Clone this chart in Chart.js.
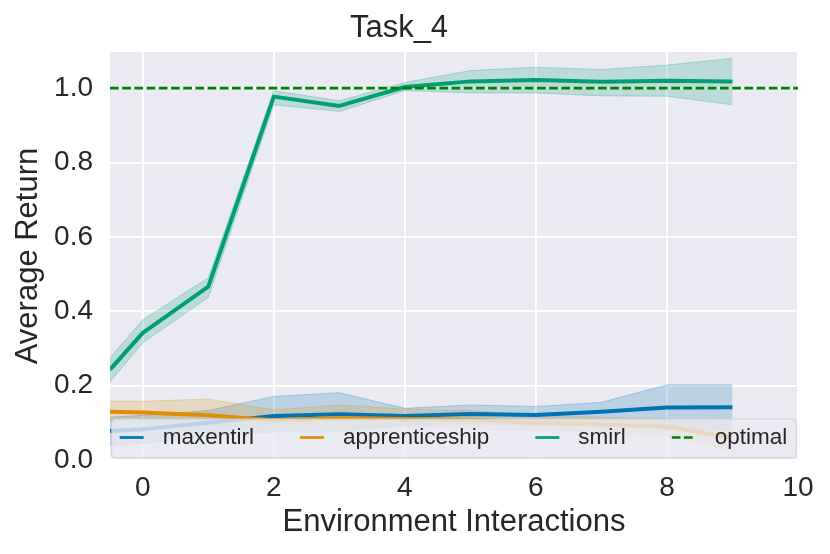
<!DOCTYPE html>
<html>
<head>
<meta charset="utf-8">
<script src="https://cdn.jsdelivr.net/npm/chart.js@4.4.1/dist/chart.umd.min.js"></script>
<style>
  html, body { margin: 0; padding: 0; background: #ffffff; }
  #chart { display: block; }
</style>
</head>
<body>
<canvas id="chart" width="830" height="554"></canvas>
<script>
// environment interaction steps (first point sits on the left axis edge)
const steps = [-0.5, 0, 1, 2, 3, 4, 5, 6, 7, 8, 9];

const maxentirlMean  = [0.078, 0.083, 0.100, 0.118, 0.123, 0.118, 0.124, 0.121, 0.130, 0.141, 0.142];
const maxentirlUpper = [0.115, 0.120, 0.133, 0.171, 0.181, 0.139, 0.148, 0.144, 0.155, 0.202, 0.202];
const maxentirlLower = [0.040, 0.045, 0.065, 0.075, 0.075, 0.095, 0.097, 0.093, 0.100, 0.082, 0.082];

const apprenticeMean  = [0.130, 0.128, 0.120, 0.107, 0.113, 0.110, 0.108, 0.100, 0.095, 0.090, 0.060];
const apprenticeUpper = [0.158, 0.158, 0.164, 0.135, 0.148, 0.137, 0.133, 0.120, 0.115, 0.110, 0.095];
const apprenticeLower = [0.105, 0.102, 0.095, 0.080, 0.085, 0.090, 0.085, 0.080, 0.075, 0.065, 0.025];

const smirlMean  = [0.243, 0.342, 0.466, 0.977, 0.952, 1.003, 1.018, 1.022, 1.017, 1.020, 1.018];
const smirlUpper = [0.275, 0.377, 0.490, 0.993, 0.966, 1.015, 1.047, 1.056, 1.050, 1.062, 1.080];
const smirlLower = [0.210, 0.315, 0.437, 0.955, 0.937, 0.993, 0.987, 0.987, 0.979, 0.978, 0.955];

const optimalValue = 1.0;

const xTicks = [0, 2, 4, 6, 8, 10];
const yTicks = [0.0, 0.2, 0.4, 0.6, 0.8, 1.0];
const xMin = -0.5, xMax = 10;
const yMin = 0, yMax = 1.097;

const FONT = '"Liberation Sans", Arial, "DejaVu Sans", sans-serif';
const INK = '#262626';

function pts(ys) {
    return ys.map((y, i) => ({ x: steps[i], y: y }));
}

function rgba(rgb, a) {
    return 'rgba(' + rgb.join(',') + ',' + a + ')';
}

const BLUE = [1, 115, 178];
const ORANGE = [222, 143, 5];
const GREEN = [2, 158, 115];

function band(upper, lower, rgb, order) {
    return [{
        data: pts(upper),
        borderColor: rgba(rgb, 0.25),
        borderWidth: 1,
        pointRadius: 0,
        fill: false,
        order: order + 1
    }, {
        data: pts(lower),
        borderColor: rgba(rgb, 0.25),
        borderWidth: 1,
        pointRadius: 0,
        fill: '-1',
        backgroundColor: rgba(rgb, 0.2),
        order: order
    }];
}

function line(label, ys, rgb, order) {
    return {
        label: label,
        data: pts(ys),
        borderColor: rgba(rgb, 1),
        borderWidth: 4,
        borderJoinStyle: 'round',
        pointRadius: 0,
        fill: false,
        order: order
    };
}

const datasets = [
    ...band(maxentirlUpper, maxentirlLower, BLUE, 20),
    ...band(apprenticeUpper, apprenticeLower, ORANGE, 18),
    ...band(smirlUpper, smirlLower, GREEN, 16),
    line('maxentirl', maxentirlMean, BLUE, 6),
    line('apprenticeship', apprenticeMean, ORANGE, 5),
    line('smirl', smirlMean, GREEN, 4),
    {
        label: 'optimal',
        data: [{ x: xMin, y: optimalValue }, { x: xMax, y: optimalValue }],
        borderColor: '#008000',
        borderWidth: 2.7,
        borderDash: [8.7, 3.5],
        pointRadius: 0,
        fill: false,
        order: 1
    }
];

// grey plot background like seaborn darkgrid
const plotBackground = {
    id: 'plotBackground',
    beforeDraw(chart) {
        const { ctx, chartArea: a } = chart;
        ctx.save();
        ctx.fillStyle = '#eaeaf2';
        ctx.fillRect(a.left, a.top, a.right - a.left, a.bottom - a.top);
        ctx.restore();
    }
};

// matplotlib-style legend inside the axes, four columns
const innerLegend = {
    id: 'innerLegend',
    afterDatasetsDraw(chart) {
        const { ctx, chartArea: a } = chart;
        const items = chart.data.datasets.filter(d => d.label);
        const handleLen = 24, textPad = 19, colGap = 46, padL = 8, padR = 9;
        ctx.save();
        ctx.font = '22.5px ' + FONT;
        const widths = items.map(d => ctx.measureText(d.label).width);
        let total = padL + padR + items.length * (handleLen + textPad) + (items.length - 1) * colGap;
        widths.forEach(w => total += w);
        const boxBottom = a.bottom - 2;
        const boxTop = boxBottom - 39;
        const boxLeft = (a.left + a.right) / 2 - total / 2;
        ctx.beginPath();
        ctx.roundRect(boxLeft, boxTop, total, boxBottom - boxTop, 4);
        ctx.fillStyle = 'rgba(234,234,242,0.8)';
        ctx.fill();
        ctx.strokeStyle = 'rgba(204,204,204,0.8)';
        ctx.lineWidth = 1;
        ctx.stroke();

        const cy = (boxTop + boxBottom) / 2 - 1;
        let x = boxLeft + padL;
        items.forEach((d, i) => {
            ctx.beginPath();
            ctx.strokeStyle = d.borderColor;
            ctx.lineWidth = 2.7;
            ctx.setLineDash(d.borderDash || []);
            ctx.moveTo(x, cy);
            ctx.lineTo(x + handleLen, cy);
            ctx.stroke();
            ctx.setLineDash([]);
            ctx.fillStyle = INK;
            ctx.textBaseline = 'middle';
            ctx.textAlign = 'left';
            ctx.fillText(d.label, x + handleLen + textPad, cy);
            x += handleLen + textPad + widths[i] + colGap;
        });
        ctx.restore();
    }
};

new Chart(document.getElementById('chart').getContext('2d'), {
    type: 'line',
    data: { datasets: datasets },
    options: {
        responsive: false,
        animation: false,
        layout: { padding: { left: 0, right: 32, top: 0, bottom: 0 } },
        plugins: {
            legend: { display: false },
            tooltip: { enabled: false },
            title: {
                display: true,
                text: 'Task_4',
                color: INK,
                font: { family: FONT, size: 31, weight: 'normal' },
                padding: { top: 9.5, bottom: 5.3 }
            }
        },
        scales: {
            x: {
                type: 'linear',
                min: xMin,
                max: xMax,
                afterBuildTicks: s => { s.ticks = xTicks.map(v => ({ value: v })); },
                afterFit: s => { s.height = 94; },
                grid: { color: '#ffffff', lineWidth: 1.8, drawTicks: false },
                border: { display: false },
                ticks: {
                    color: INK,
                    padding: 11,
                    font: { family: FONT, size: 28 },
                    callback: v => String(v)
                },
                title: {
                    display: true,
                    text: 'Environment Interactions',
                    color: INK,
                    font: { family: FONT, size: 31 },
                    padding: { top: 0, bottom: 12.5 }
                }
            },
            y: {
                min: yMin,
                max: yMax,
                afterBuildTicks: s => { s.ticks = yTicks.map(v => ({ value: v })); },
                afterFit: s => { s.width = 110; },
                grid: { color: '#ffffff', lineWidth: 1.8, drawTicks: false },
                border: { display: false },
                ticks: {
                    color: INK,
                    padding: 17,
                    font: { family: FONT, size: 28 },
                    callback: v => Number(v).toFixed(1)
                },
                title: {
                    display: true,
                    text: 'Average Return',
                    color: INK,
                    font: { family: FONT, size: 31 },
                    padding: { top: 10, bottom: 0 }
                }
            }
        }
    },
    plugins: [plotBackground, innerLegend]
});
</script>
</body>
</html>
